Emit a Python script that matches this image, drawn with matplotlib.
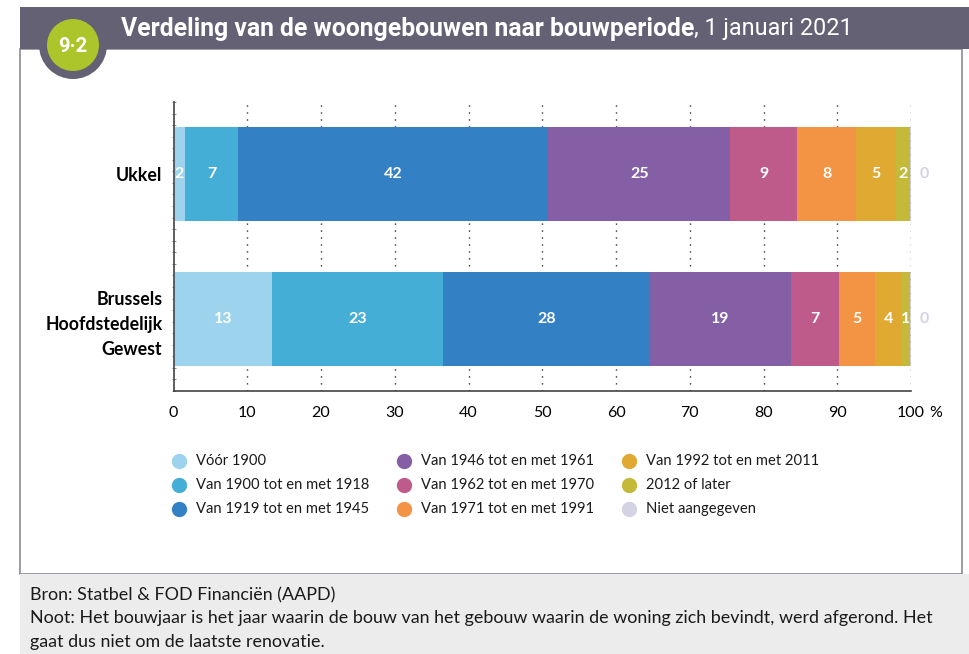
import numpy as np
import matplotlib.pyplot as plt
from matplotlib.patches import Rectangle, Circle
from matplotlib.lines import Line2D

# aandeel woongebouwen per bouwperiode (%)
regions = ["Ukkel", "Brussels\nHoofdstedelijk\nGewest"]
periods = ["Vóór 1900", "Van 1900 tot en met 1918", "Van 1919 tot en met 1945",
           "Van 1946 tot en met 1961", "Van 1962 tot en met 1970", "Van 1971 tot en met 1991",
           "Van 1992 tot en met 2011", "2012 of later", "Niet aangegeven"]
ukkel = [1.6, 7.2, 42.0, 24.7, 9.1, 7.9, 5.4, 2.0, 0.1]
brussel = [13.4, 23.1, 28.1, 19.1, 6.6, 4.8, 3.6, 1.2, 0.1]
colors = ["#9dd3ec", "#45aed6", "#3380c4", "#855fa5", "#be5b8a",
          "#f29444", "#e0a931", "#c5b93a", "#d3d3e3"]
ticks = [0, 10, 20, 30, 40, 50, 60, 70, 80, 90, 100]

W, H = 969, 654
fig = plt.figure(figsize=(W / 100, H / 100), dpi=100)
body = ["Lato", "DejaVu Sans"]


def fx(x):
    return x / W


def fy(y):
    return 1 - y / H


# kader, kopband en voetnoot
fig.add_artist(Rectangle((fx(20), fy(574)), fx(942), 525 / H, transform=fig.transFigure,
                         facecolor="white", edgecolor="#8c8a99", lw=1.2, zorder=0))
fig.add_artist(Rectangle((fx(20), fy(574) - 80 / H), fx(949), 80 / H, transform=fig.transFigure,
                         facecolor="#ececec", edgecolor="none", zorder=1))
fig.add_artist(Rectangle((fx(20), fy(49)), fx(949), 42 / H, transform=fig.transFigure,
                         facecolor="#646175", edgecolor="none", zorder=1))
# badge in inches zodat de cirkels rond blijven
fig.add_artist(Circle((0.73, (H - 45) / 100), 0.34, transform=fig.dpi_scale_trans,
                      facecolor="#646175", edgecolor="none", zorder=2))
fig.add_artist(Circle((0.73, (H - 45) / 100), 0.26, transform=fig.dpi_scale_trans,
                      facecolor="#acc52a", edgecolor="none", zorder=3))
fig.text(fx(73), fy(46), "9·2", color="white", fontsize=14.5, fontweight="bold",
         ha="center", va="center", family="Roboto", zorder=4)

title = fig.text(fx(121), fy(29), "Verdeling van de woongebouwen naar bouwperiode",
                 color="white", fontsize=17.8, fontweight="bold", family="Roboto",
                 va="center", ha="left", zorder=4)
fig.canvas.draw()
bb = title.get_window_extent()
fig.text(bb.x1 / W, fy(29), ", 1 januari 2021", color="white", fontsize=16.8,
         family="Roboto", va="center", ha="left", zorder=4)

ax = fig.add_axes([fx(173.5), fy(391), (911 - 173.5) / W, (391 - 102) / H])
ax.set_zorder(5)
y = np.arange(len(regions))
bar_h = 0.645
for row, vals in zip(y, [ukkel, brussel]):
    left = 0
    for i, v in enumerate(vals):
        ax.barh(row, v, left=left, height=bar_h, color=colors[i], zorder=2)
        if i < len(vals) - 1:
            ax.text(left + v / 2, row, f"{round(v)}", color="white", fontsize=11.5,
                    fontweight="bold", ha="center", va="center", family=body, zorder=3)
        else:
            ax.text(left + v + 1.2, row, f"{round(v)}", color=colors[i], fontsize=11.5,
                    fontweight="bold", ha="left", va="center", family=body, zorder=3)
        left += v

ax.set_xlim(0, 100)
ax.set_ylim(1.495, -0.495)
ax.set_xticks(ticks)
ax.set_xticklabels([str(t) for t in ticks], family=body, fontsize=11.5)
ax.tick_params(axis="x", length=0, pad=11)
ax.annotate("%", xy=(100, 0), xycoords=ax.get_xaxis_transform(), xytext=(13, -11),
            textcoords="offset points", family=body, fontsize=11.5, ha="left", va="top")
for t in ticks[1:]:
    ax.axvline(t, color="#333333", lw=1.0, ls=(0, (1, 4)), zorder=3 if t == 100 else 1)
ax.set_yticks(y)
ax.set_yticklabels(regions, fontsize=12.8, fontweight="bold", family=body, ha="right",
                   linespacing=1.57)
ax.tick_params(axis="y", length=0, pad=8)
ax.set_yticks(np.linspace(-0.495, 1.495, 26), minor=True)
ax.tick_params(axis="y", which="minor", length=2.5, direction="inout", color="#777777")
for s in ["top", "right"]:
    ax.spines[s].set_visible(False)
for s in ["left", "bottom"]:
    ax.spines[s].set_color("#444444")
    ax.spines[s].set_linewidth(1.2)

# legenda in drie kolommen
col_x = [179, 404, 629]
row_y = [461, 485, 509]
for i, (lab, c) in enumerate(zip(periods, colors)):
    cx, cy = col_x[i // 3], row_y[i % 3]
    fig.add_artist(Line2D([fx(cx)], [fy(cy)], marker="o", markersize=10, color=c,
                          transform=fig.transFigure, zorder=4))
    fig.text(fx(cx + 17), fy(cy), lab, fontsize=10.6, family=body,
             va="center", ha="left", color="#1a1a1a", zorder=4)

note = ["Bron: Statbel & FOD Financiën (AAPD)",
        "Noot: Het bouwjaar is het jaar waarin de bouw van het gebouw waarin de woning "
        "zich bevindt, werd afgerond. Het",
        "gaat dus niet om de laatste renovatie."]
for k, line in enumerate(note):
    fig.text(fx(30), fy(595 + 23.5 * k), line, fontsize=12.9, family=body,
             va="center", ha="left", color="#1a1a1a", zorder=4)

fig.savefig("out.png", dpi=100)
